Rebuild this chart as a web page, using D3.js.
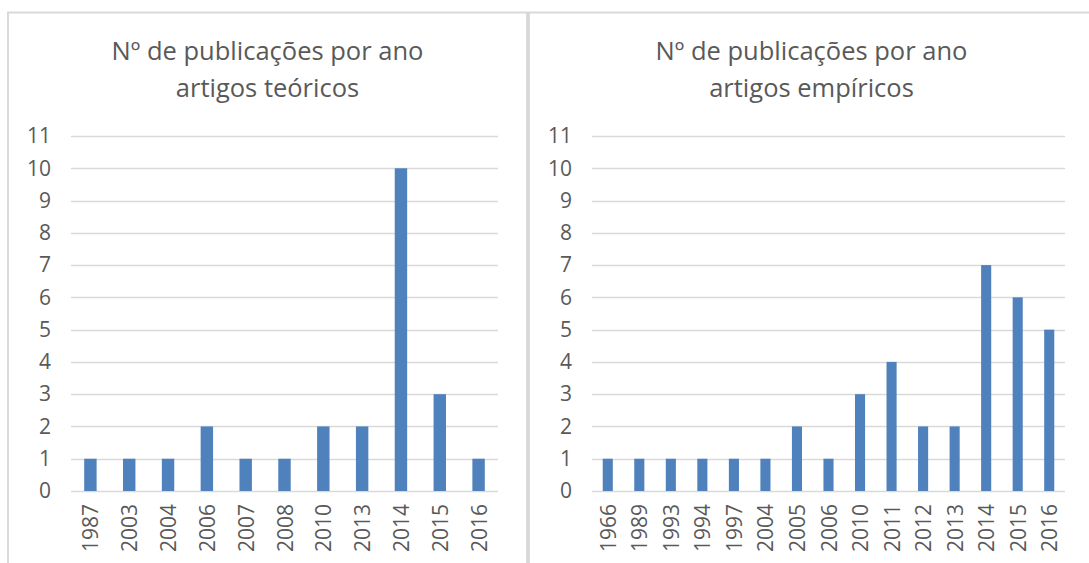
<!DOCTYPE html>
<html lang="pt">
<head>
    <meta charset="UTF-8">
    <title>Nº de publicações por ano</title>
    <script src="https://cdn.jsdelivr.net/npm/d3@7"></script>
    <style>
        body { margin: 0; background: #fff; }
        svg text { font-family: "Open Sans", sans-serif; fill: #595959; }
    </style>
</head>
<body>
    <svg id="chart" width="1089" height="563"></svg>

    <script>
        // Data
        const teoricosYears = ["1987", "2003", "2004", "2006", "2007", "2008", "2010", "2013", "2014", "2015", "2016"];
        const teoricosCounts = [1, 1, 1, 2, 1, 1, 2, 2, 10, 3, 1];

        const empiricosYears = ["1966", "1989", "1993", "1994", "1997", "2004", "2005", "2006", "2010", "2011", "2012", "2013", "2014", "2015", "2016"];
        const empiricosCounts = [1, 1, 1, 1, 1, 1, 2, 1, 3, 4, 2, 2, 7, 6, 5];

        const yTicks = [0, 1, 2, 3, 4, 5, 6, 7, 8, 9, 10, 11];
        const titleLine1 = "Nº de publicações por ano";

        const svg = d3.select("#chart");

        // Draw one chart panel
        function drawPanel(opts) {
            const g = svg.append("g");

            // panel frame (runs off the bottom like the screenshot)
            g.append("rect")
                .attr("x", opts.frame[0])
                .attr("y", 12.5)
                .attr("width", opts.frame[1] - opts.frame[0])
                .attr("height", 620)
                .attr("fill", "#fff")
                .attr("stroke", "#d9d9d9")
                .attr("stroke-width", 2);

            const cx = (opts.frame[0] + opts.frame[1]) / 2;
            g.append("text")
                .attr("x", cx).attr("y", 60)
                .attr("text-anchor", "middle")
                .style("font-size", "25.5px")
                .text(titleLine1);
            g.append("text")
                .attr("x", cx).attr("y", 97)
                .attr("text-anchor", "middle")
                .style("font-size", "25.5px")
                .text(opts.subtitle);

            const y = d3.scaleLinear().domain([0, 11]).range([491, 136]);
            const x = d3.scaleBand()
                .domain(opts.years)
                .range([opts.plot[0], opts.plot[1]])
                .paddingInner(0.68)
                .paddingOuter(0.34);

            // gridlines
            g.append("g").selectAll("line")
                .data(yTicks)
                .join("line")
                .attr("x1", opts.plot[0]).attr("x2", opts.plot[1])
                .attr("y1", d => Math.round(y(d)) + 0.5)
                .attr("y2", d => Math.round(y(d)) + 0.5)
                .attr("stroke", "#d9d9d9")
                .attr("stroke-width", 1.3);

            // y axis labels
            const yAxis = d3.axisLeft(y).tickValues(yTicks).tickSize(0).tickPadding(0);
            g.append("g")
                .attr("transform", `translate(${opts.yLabelX},0)`)
                .call(yAxis)
                .call(a => a.select(".domain").remove())
                .selectAll("text")
                .style("font-size", "21px")
                .attr("fill", "#595959");

            // bars
            const counts = opts.counts;
            g.append("g").selectAll("rect")
                .data(opts.years)
                .join("rect")
                .attr("x", d => x(d))
                .attr("width", x.bandwidth())
                .attr("y", (d, i) => y(counts[i]))
                .attr("height", (d, i) => y(0) - y(counts[i]))
                .attr("fill", "#4f81bd");

            // x axis labels (rotated)
            const xAxis = d3.axisBottom(x).tickSize(0).tickPadding(0);
            g.append("g")
                .attr("transform", "translate(0,504)")
                .call(xAxis)
                .call(a => a.select(".domain").remove())
                .selectAll("text")
                .style("font-size", "21px")
                .attr("fill", "#595959")
                .attr("text-anchor", "end")
                .attr("dy", null)
                .attr("y", 0)
                .attr("x", 0)
                .attr("dominant-baseline", "central")
                .attr("transform", "rotate(-90)");
        }

        drawPanel({
            frame: [8, 527],
            plot: [71, 498],
            yLabelX: 51,
            years: teoricosYears,
            counts: teoricosCounts,
            subtitle: "artigos teóricos"
        });

        drawPanel({
            frame: [529, 1094],
            plot: [592, 1065],
            yLabelX: 572,
            years: empiricosYears,
            counts: empiricosCounts,
            subtitle: "artigos empíricos"
        });
    </script>
</body>
</html>
